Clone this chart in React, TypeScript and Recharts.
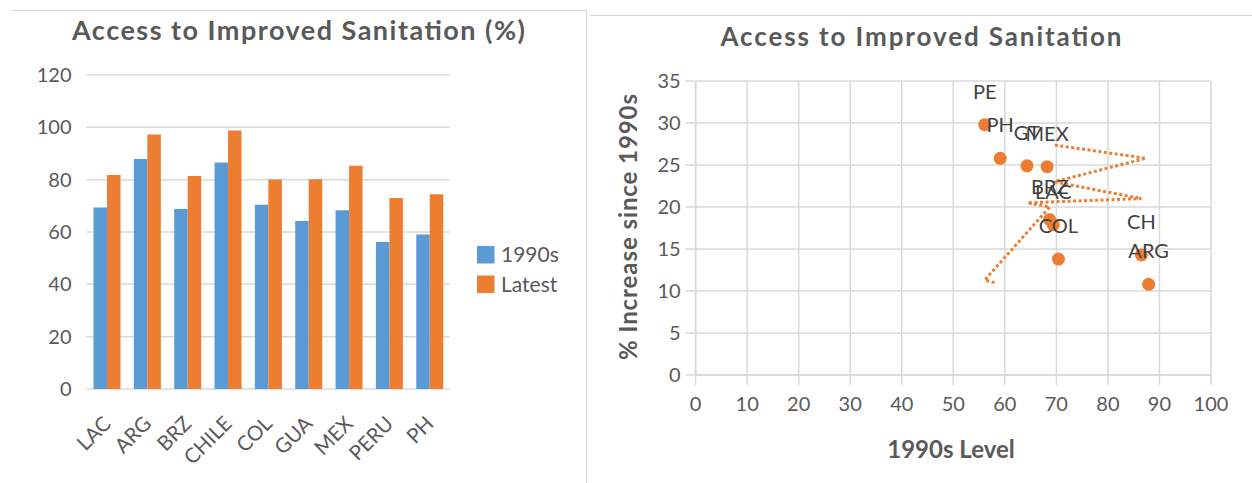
import React from "react";
import { Bar, BarChart, CartesianGrid, LabelList, Scatter, ScatterChart, XAxis, YAxis } from "recharts";

// bar chart
const countries = ["LAC", "ARG", "BRZ", "CHILE", "COL", "GUA", "MEX", "PERU", "PH"];
const level1990s = [69.4, 87.9, 68.8, 86.6, 70.4, 64.2, 68.3, 56.2, 59.0];
const latest = [81.8, 97.3, 81.4, 98.8, 80.1, 80.2, 85.3, 73.0, 74.4];
const shareTicks = [0, 20, 40, 60, 80, 100, 120];

// scatter chart
const pointLabels = ["LAC", "ARG", "BRZ", "CH", "COL", "GT", "MEX", "PE", "PH"];
const pointLevel = [69.4, 87.9, 68.7, 86.5, 70.4, 64.3, 68.2, 56.1, 59.1];
const pointIncrease = [17.9, 10.8, 18.5, 14.3, 13.8, 24.9, 24.8, 29.8, 25.8];
const trendLevel = [58.0, 56.1, 68.7, 64.4, 86.5, 69.6, 87.4, 69.3];
const trendIncrease = [11.0, 11.3, 20.0, 20.5, 21.0, 23.0, 25.8, 27.4];
const levelTicks = [0, 10, 20, 30, 40, 50, 60, 70, 80, 90, 100];
const increaseTicks = [0, 5, 10, 15, 20, 25, 30, 35];

const BLUE = "#5B9BD5";
const ORANGE = "#ED7D31";
const GRID = "#d9d9d9";
const TEXT = "#595959";
const FONT = "Lato, 'Open Sans', sans-serif";

const barData = countries.map((c, i) => ({ name: c, base: level1990s[i], latest: latest[i] }));
const points = pointLabels.map((n, i) => ({ name: n, x: pointLevel[i], y: pointIncrease[i] }));
const trend = trendLevel.map((x, i) => ({ x, y: trendIncrease[i] }));

const CategoryTick = (props: any) => {
	const { x, y, payload } = props;
	const ax = x + 5.5;
	const ay = y + 36;
	return (
		<text x={ax} y={ay} transform={`rotate(-45, ${ax}, ${ay})`} textAnchor="end"
			fill={TEXT} fontSize={20.5} fontFamily={FONT}>{payload.value}</text>
	);
};

const Dot = (props: any) => <circle cx={props.cx} cy={props.cy} r={6.5} fill={ORANGE} />;
const NoDot = () => <g />;

const PointLabel = (props: any) => {
	const vb = props.viewBox && typeof props.viewBox.x === "number" ? props.viewBox : props;
	const cx = vb.x + (vb.width || 0) / 2;
	const cy = vb.y + (vb.height || 0) / 2;
	return (
		<text x={cx} y={cy - 26} textAnchor="middle" fill="#404040" fontSize={20} fontFamily={FONT}>
			{props.value}
		</text>
	);
};

export default function App() {
	return (
		<div style={{ position: "absolute", left: 0, top: 0, width: 1252, height: 483, background: "#fff", overflow: "hidden" }}>
			{/* frames */}
			<div style={{ position: "absolute", left: 11, top: 10, width: 575, height: 480, borderTop: `1px solid ${GRID}`, borderRight: `1px solid ${GRID}` }} />
			<div style={{ position: "absolute", left: 590, top: 15, width: 662, height: 1, background: GRID }} />

			<div style={{ position: "absolute", left: 0, top: 0 }}>
				<BarChart width={590} height={483} data={barData} barGap={0}
					margin={{ top: 75, right: 140.4, bottom: 34, left: 26.5 }}>
					<CartesianGrid vertical={false} stroke={GRID} strokeWidth={1.5} />
					<XAxis dataKey="name" axisLine={false} tickLine={false} tickSize={0} tickMargin={0}
						height={60} interval={0} tick={<CategoryTick />} />
					<YAxis domain={[0, 120]} ticks={shareTicks} width={60} axisLine={false} tickLine={false}
						tickSize={0} tickMargin={15}
						tick={{ fill: TEXT, fontSize: 20, fontFamily: FONT }} />
					<Bar dataKey="base" name="1990s" fill={BLUE} barSize={13.5} isAnimationActive={false} />
					<Bar dataKey="latest" name="Latest" fill={ORANGE} barSize={13.5} isAnimationActive={false} />
				</BarChart>
			</div>

			<div style={{ position: "absolute", left: 590, top: 0 }}>
				<ScatterChart width={662} height={483} margin={{ top: 81, right: 41, bottom: 38, left: 45.6 }}>
					<CartesianGrid stroke={GRID} strokeWidth={1.5} />
					<XAxis type="number" dataKey="x" domain={[0, 100]} ticks={levelTicks} height={70}
						stroke={GRID} strokeWidth={1.5} tickSize={10} tickMargin={12}
						tick={{ fill: TEXT, fontSize: 20, fontFamily: FONT }} />
					<YAxis type="number" dataKey="y" domain={[0, 35]} ticks={increaseTicks} width={60}
						stroke={GRID} strokeWidth={1.5} tickSize={10} tickMargin={5}
						tick={{ fill: TEXT, fontSize: 20, fontFamily: FONT }} />
					<Scatter data={trend} shape={NoDot} line={{ stroke: ORANGE, strokeWidth: 3, strokeDasharray: "3 2.5" }}
						isAnimationActive={false} />
					<Scatter data={points} shape={Dot} isAnimationActive={false}>
						<LabelList dataKey="name" content={PointLabel} />
					</Scatter>
				</ScatterChart>
			</div>

			{/* titles and legend */}
			<svg width={1252} height={483} style={{ position: "absolute", left: 0, top: 0, pointerEvents: "none" }}>
				<text x={298.5} y={40} textAnchor="middle" fill={TEXT} fontSize={27} fontWeight="bold" fontFamily={FONT}
					textLength={453} lengthAdjust="spacing">
					Access to Improved Sanitation (%)
				</text>
				<text x={921} y={46} textAnchor="middle" fill={TEXT} fontSize={26} fontWeight="bold" fontFamily={FONT}
					textLength={401} lengthAdjust="spacing">
					Access to Improved Sanitation
				</text>
				<text x={951} y={458} textAnchor="middle" fill={TEXT} fontSize={24} fontWeight="bold" fontFamily={FONT}>
					1990s Level
				</text>
				<text x={637} y={227} textAnchor="middle" transform="rotate(-90, 637, 227)" fill={TEXT}
					fontSize={24} fontWeight="bold" fontFamily={FONT} textLength={266} lengthAdjust="spacing">
					% Increase since 1990s
				</text>
				<rect x={477} y={246} width={17.5} height={17.5} fill={BLUE} />
				<text x={501} y={262} fill={TEXT} fontSize={21} fontFamily={FONT}>1990s</text>
				<rect x={477} y={275.5} width={17.5} height={17.5} fill={ORANGE} />
				<text x={501} y={291.5} fill={TEXT} fontSize={21} fontFamily={FONT}>Latest</text>
			</svg>
		</div>
	);
}
